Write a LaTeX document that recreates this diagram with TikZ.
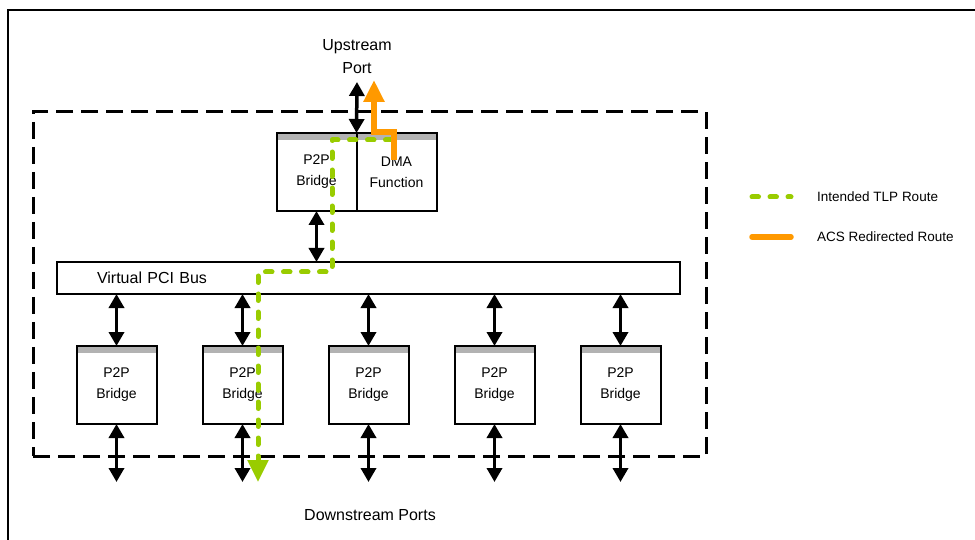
\documentclass[tikz,border=0pt]{standalone}
\usepackage{fontspec}
\setmainfont{Liberation Sans}
\usepackage{tikz}
\usetikzlibrary{arrows.meta,positioning,calc}

\definecolor{tlpgreen}{RGB}{153,204,0}
\definecolor{acsorange}{RGB}{255,153,0}
\definecolor{bandgray}{RGB}{178,178,178}

\begin{document}
\begin{tikzpicture}[x=1pt, y=-1pt,
    bridge/.style={rectangle, draw=black, line width=2pt, fill=white, minimum width=80pt, minimum height=78pt,
        inner sep=0pt, outer sep=0pt, align=center, font=\fontsize{14}{21}\selectfont,
        path picture={\fill[bandgray] (path picture bounding box.north west) rectangle ([yshift=-7pt]path picture bounding box.north east);}},
    busbar/.style={rectangle, draw=black, line width=1.5pt, fill=white, minimum height=32pt, text width=543pt,
        inner xsep=40pt, inner ysep=0pt, outer sep=0pt, align=left, font=\fontsize{16}{19}\selectfont},
    biarrow/.style={{Triangle[width=15pt,length=14pt]}-{Triangle[width=15pt,length=14pt]}, line width=3.5pt},
    tlp/.style={draw=tlpgreen, line width=5pt, line cap=round, line join=round, dash pattern=on 6.5pt off 11.5pt},
    acs/.style={draw=acsorange, line width=5.5pt, line join=miter},
    lbl/.style={font=\fontsize{16}{23}\selectfont, align=center},
    legend/.style={font=\fontsize{13.5}{16}\selectfont, anchor=west, inner sep=0pt}
]
    \useasboundingbox (0,0) rectangle (975,540);

    % Outer frame (cut at right and bottom)
    \draw[line width=2.5pt] (8,540) -- (8,10) -- (975,10);

    % Switch boundary
    \node[rectangle, draw=black, line width=3pt, dash pattern=on 17pt off 8pt, minimum width=673pt, minimum height=344pt, inner sep=0pt] (switch) at (369.5,284) {};

    % Upstream side
    \node[lbl] (upstream) at (357,57) {Upstream\\Port};
    \node[bridge] (bridge0) at (316.5,172) {P2P\\Bridge};
    \node[bridge, right=0pt of bridge0] (dma) {DMA\\Function};
    \coordinate (upport) at (357,82);
    \draw[biarrow] (upport) -- (bridge0.north east);

    % Virtual bus
    \node[busbar] (bus) at (368.5,278) {Virtual PCI Bus};
    \draw[biarrow] (bridge0.south) -- (bridge0.south |- bus.north);

    % Downstream bridges
    \node[bridge] (b1) at (116.5,385) {P2P\\Bridge};
    \node[bridge, right=46pt of b1] (b2) {P2P\\Bridge};
    \node[bridge, right=46pt of b2] (b3) {P2P\\Bridge};
    \node[bridge, right=46pt of b3] (b4) {P2P\\Bridge};
    \node[bridge, right=46pt of b4] (b5) {P2P\\Bridge};

    \draw[biarrow] (b1.north |- bus.south) -- (b1.north);
    \draw[biarrow] (b2.north |- bus.south) -- (b2.north);
    \draw[biarrow] (b3.north |- bus.south) -- (b3.north);
    \draw[biarrow] (b4.north |- bus.south) -- (b4.north);
    \draw[biarrow] (b5.north |- bus.south) -- (b5.north);

    % Downstream ports
    \coordinate[below=58pt of b1.south] (d1);
    \coordinate[below=58pt of b2.south] (d2);
    \coordinate[below=58pt of b3.south] (d3);
    \coordinate[below=58pt of b4.south] (d4);
    \coordinate[below=58pt of b5.south] (d5);
    \draw[biarrow] (b1.south) -- (d1);
    \draw[biarrow] (b2.south) -- (d2);
    \draw[biarrow] (b3.south) -- (d3);
    \draw[biarrow] (b4.south) -- (d4);
    \draw[biarrow] (b5.south) -- (d5);

    \node[lbl] (downstream) at (370,515) {Downstream Ports};

    % Intended TLP route
    \coordinate (tlpstart) at (392,140);
    \coordinate (tlpbend) at (332,272);
    \coordinate (tlpend) at (258,482);
    \draw[tlp, -{Triangle[width=20pt,length=22pt]}] (tlpstart) -| (tlpbend) -| (tlpend);

    % ACS redirected route
    \coordinate (acsstart) at (394,160);
    \coordinate (acsbend) at (394,132);
    \coordinate (acstip) at (374,80);
    \draw[acs, -{Triangle[width=20pt,length=22pt]}] (acsstart) -- (acsbend) -| (acstip);

    % Legend
    \node[legend] (tlpkey) at (817,197) {Intended TLP Route};
    \node[legend] (acskey) at (817,237) {ACS Redirected Route};
    \coordinate (tlpkeya) at (752,197);
    \coordinate (acskeya) at (752,237);
    \draw[tlp] (tlpkeya) -- ([xshift=-26pt]tlpkey.west);
    \draw[acs, line cap=round] (acskeya) -- ([xshift=-26pt]acskey.west);
\end{tikzpicture}
\end{document}
